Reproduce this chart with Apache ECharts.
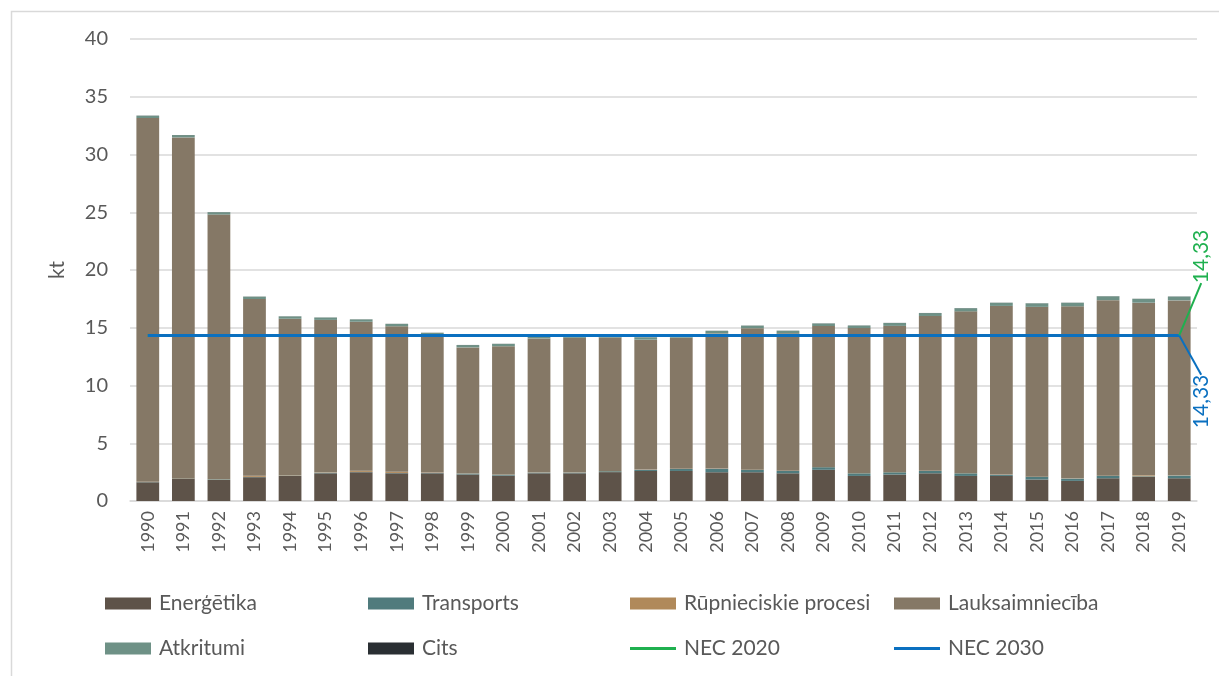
<!DOCTYPE html>
<html>
<head>
<meta charset="utf-8">
<script src="https://cdn.jsdelivr.net/npm/echarts@6/dist/echarts.min.js"></script>
<style>
html,body{margin:0;padding:0;background:#fff;}
#c{width:1219px;height:676px;}
</style>
</head>
<body>
<div id="c"></div>
<script>
const years = ['1990','1991','1992','1993','1994','1995','1996','1997','1998','1999','2000','2001','2002','2003','2004','2005','2006','2007','2008','2009','2010','2011','2012','2013','2014','2015','2016','2017','2018','2019'];
const energetika = [1.62,1.94,1.83,2.06,2.17,2.40,2.49,2.40,2.40,2.30,2.20,2.40,2.40,2.50,2.60,2.60,2.49,2.49,2.40,2.70,2.17,2.29,2.40,2.17,2.17,1.86,1.74,1.97,2.09,1.97];
const transports = [0.02,0.02,0.05,0.03,0.03,0.05,0.03,0.03,0.03,0.08,0.08,0.06,0.06,0.08,0.10,0.17,0.30,0.20,0.20,0.23,0.23,0.20,0.20,0.23,0.10,0.23,0.20,0.20,0.05,0.23];
const rupnieciskie = [0.02,0.02,0.02,0.10,0.03,0.03,0.10,0.10,0.03,0.02,0.02,0.02,0.02,0.02,0.02,0.02,0.02,0.02,0.02,0.02,0.02,0.02,0.02,0.02,0.02,0.02,0.02,0.02,0.08,0.02];
const lauksaimnieciba = [31.5,29.5,22.9,15.3,13.55,13.2,12.9,12.6,11.9,10.9,11.1,11.6,11.65,11.55,11.25,11.35,11.7,12.25,11.9,12.2,12.55,12.65,13.4,14.0,14.6,14.7,14.9,15.2,14.95,15.15];
const atkritumi = [0.20,0.20,0.20,0.20,0.20,0.20,0.20,0.20,0.20,0.20,0.20,0.20,0.20,0.20,0.20,0.20,0.22,0.22,0.22,0.22,0.22,0.25,0.25,0.27,0.27,0.30,0.30,0.33,0.33,0.33];
const cits = [0.01,0.01,0.01,0.01,0.01,0.01,0.01,0.01,0.01,0.01,0.01,0.01,0.01,0.01,0.01,0.01,0.01,0.01,0.01,0.01,0.01,0.01,0.01,0.01,0.01,0.01,0.01,0.01,0.01,0.01];
const nec2020 = [14.33,14.33,14.33,14.33,14.33,14.33,14.33,14.33,14.33,14.33,14.33,14.33,14.33,14.33,14.33,14.33,14.33,14.33,14.33,14.33,14.33,14.33,14.33,14.33,14.33,14.33,14.33,14.33,14.33,14.33];
const nec2030 = [14.33,14.33,14.33,14.33,14.33,14.33,14.33,14.33,14.33,14.33,14.33,14.33,14.33,14.33,14.33,14.33,14.33,14.33,14.33,14.33,14.33,14.33,14.33,14.33,14.33,14.33,14.33,14.33,14.33,14.33];
const yTicks = [0,5,10,15,20,25,30,35,40];

const FONT = 'Lato';
const TXT = '#595959';
const colors = {
  'Enerģētika':'#5e5349',
  'Transports':'#507b7d',
  'Rūpnieciskie procesi':'#b0895a',
  'Lauksaimniecība':'#857866',
  'Atkritumi':'#6e9186',
  'Cits':'#2a2f33',
  'NEC 2020':'#1fb04f',
  'NEC 2030':'#0a70c0'
};

function bar(name, data){
  return {name, type:'bar', stack:'kt', data, barCategoryGap:'36%',
    itemStyle:{color:colors[name]}, emphasis:{disabled:true}};
}
const last = years.length - 1;
// offsets are in the label's rotated frame (rotate 90): local dx -> global -y, local dy -> global +x
function necLine(name, data, ldx, ldy){
  return {
    name, type:'line', data: data.map((v,i)=> i===last ? {value:v, label:{show:true}} : v),
    symbol:'circle', symbolSize:0.1, showSymbol:true,
    lineStyle:{color:colors[name], width:3}, itemStyle:{color:colors[name]},
    label:{show:false, position:'inside', rotate:90, formatter:(p)=>String(p.value).replace('.',','),
      color:colors[name], fontFamily:FONT, fontSize:21},
    labelLine:{show:true, lineStyle:{color:colors[name], width:2}},
    labelLayout:(p)=> p.dataIndex===last ? {dx:ldx, dy:ldy} : {},
    emphasis:{disabled:true}, z:3
  };
}

const legendPos = [
  ['Enerģētika',105,593,12],['Transports',368,593,12],['Rūpnieciskie procesi',630,593,12],['Lauksaimniecība',894,593,12],
  ['Atkritumi',105,638,12],['Cits',368,638,12],['NEC 2020',630,638,3],['NEC 2030',894,638,3]
];
const legends = legendPos.map(([n,l,t,h])=>({
  data:[n], left:l, top:t, padding:0, icon:'rect', itemWidth:46, itemHeight:h, itemGap:0,
  textStyle:{color:TXT, fontFamily:FONT, fontSize:21, padding:[0,0,0,3]}, selectedMode:false
}));

const chart = echarts.init(document.getElementById('c'));
chart.setOption({
  animation:false,
  backgroundColor:'#fff',
  graphic:[{type:'rect', left:9, top:9, shape:{width:1300, height:720}, style:{fill:'none', stroke:'#d9d9d9', lineWidth:1.5}, silent:true}],
  legend: legends,
  grid:{left:130, right:22, top:39, bottom:175},
  xAxis:{type:'category', data:years,
    axisLine:{lineStyle:{color:'#d9d9d9', width:1.5}}, axisTick:{show:false},
    axisLabel:{rotate:90, interval:0, color:TXT, fontFamily:FONT, fontSize:18, margin:10}},
  yAxis:{type:'value', min:yTicks[0], max:yTicks[yTicks.length-1], interval:5,
    name:'kt', nameLocation:'middle', nameGap:62, nameRotate:90,
    nameTextStyle:{color:TXT, fontFamily:FONT, fontSize:21},
    axisLine:{show:false}, axisTick:{show:false},
    axisLabel:{color:TXT, fontFamily:FONT, fontSize:20, margin:22},
    splitLine:{lineStyle:{color:'#d9d9d9', width:1.5}}},
  series:[
    bar('Enerģētika', energetika),
    bar('Transports', transports),
    bar('Rūpnieciskie procesi', rupnieciskie),
    bar('Lauksaimniecība', lauksaimnieciba),
    bar('Atkritumi', atkritumi),
    bar('Cits', cits),
    necLine('NEC 2020', nec2020, 79, 22),
    necLine('NEC 2030', nec2030, -66, 22)
  ]
});
</script>
</body>
</html>
